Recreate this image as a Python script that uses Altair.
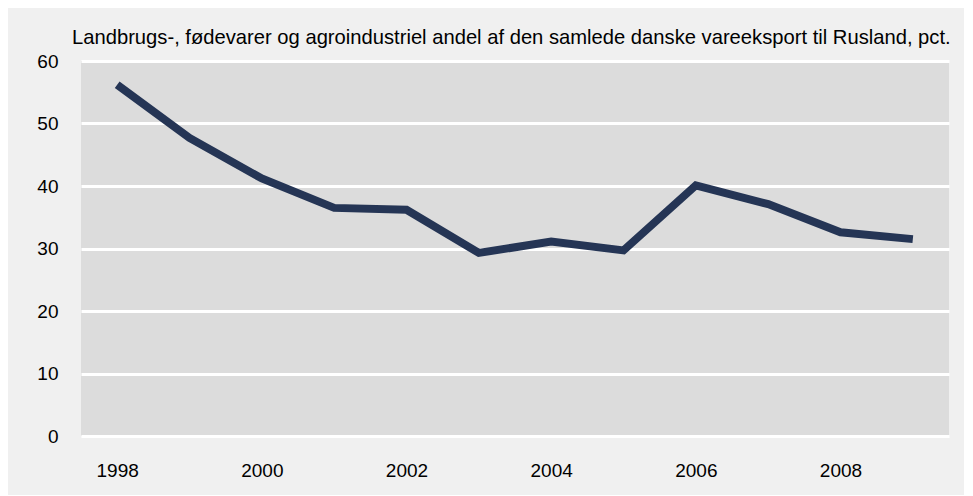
import altair as alt
import pandas as pd

years = [1998, 1999, 2000, 2001, 2002, 2003, 2004, 2005, 2006, 2007, 2008, 2009]
shares = [56.2, 47.7, 41.2, 36.5, 36.2, 29.3, 31.1, 29.7, 40.1, 37.1, 32.6, 31.5]
x_tick_labels = [1998, 2000, 2002, 2004, 2006, 2008]
y_tick_values = [0, 10, 20, 30, 40, 50, 60]
title_text = "Landbrugs-, fødevarer og agroindustriel andel af den samlede danske vareeksport til Rusland, pct."

df = pd.DataFrame({"year": years, "share": shares})

FONT = "Liberation Sans"

chart = (
    alt.Chart(df)
    .mark_line(color="#253555", strokeWidth=8, strokeJoin="miter")
    .encode(
        x=alt.X(
            "year:O",
            scale=alt.Scale(type="point", padding=0.5),
            axis=alt.Axis(
                values=x_tick_labels,
                labelAngle=0,
                title=None,
                ticks=False,
                tickSize=0,
                domain=False,
                grid=False,
                labelPadding=25,
                labelFontSize=19,
                labelFont=FONT,
                labelColor="#000000",
            ),
        ),
        y=alt.Y(
            "share:Q",
            scale=alt.Scale(domain=[0, 60], nice=False, zero=True),
            axis=alt.Axis(
                values=y_tick_values,
                title=None,
                ticks=False,
                tickSize=0,
                domain=False,
                grid=True,
                gridColor="#FFFFFF",
                gridWidth=3,
                gridOpacity=1,
                labelPadding=23,
                labelFontSize=19,
                labelFont=FONT,
                labelColor="#000000",
            ),
        ),
    )
    .properties(
        width=868,
        height=375,
        title=alt.TitleParams(
            text=title_text,
            anchor="start",
            frame="group",
            dx=-9,
            offset=4,
            fontSize=20.2,
            fontWeight="normal",
            font=FONT,
            color="#000000",
        ),
        autosize=alt.AutoSizeParams(type="none"),
        padding={"left": 73, "top": 53, "right": 15, "bottom": 59},
    )
    .configure(background="#F0F0F0")
    .configure_view(fill="#DCDCDC", stroke=None)
)

chart.save("out.html", embed_options={"renderer": "svg", "actions": False})
